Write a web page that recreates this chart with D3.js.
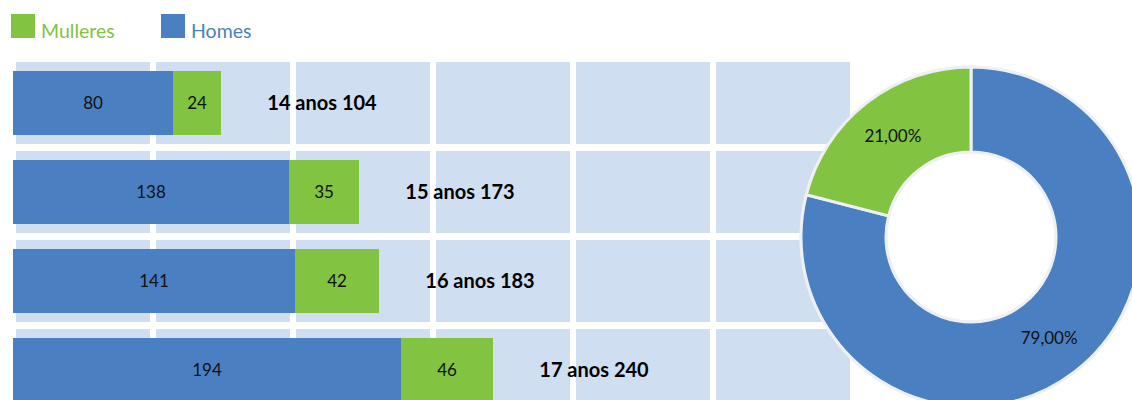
<!DOCTYPE html>
<html>
<head>
<meta charset="utf-8">
<script src="https://cdn.jsdelivr.net/npm/d3@7"></script>
<style>
  html, body { margin: 0; padding: 0; background: #fff; }
  svg { display: block; font-family: Lato, "Open Sans", sans-serif; }
</style>
</head>
<body>
<svg id="chart" width="1132" height="400"></svg>
<script>
// Ages and counts by sex
const ages = ["14 anos", "15 anos", "16 anos", "17 anos"];
const homes = [80, 138, 141, 194];
const mulleres = [24, 35, 42, 46];
const gridTicks = [0, 70, 140, 210, 280, 350, 420];

// Share of the total by sex
const shareLabels = ["Homes", "Mulleres"];
const shareValues = [79, 21];

const BLUE = "#4a80c1", GREEN = "#82c341", CELL = "#cfdef0", RIM = "#eef0f4";

const svg = d3.select("#chart");

const x = d3.scaleLinear().domain([0, 420]).range([13, 853]);
const y = d3.scaleBand().domain(ages).range([58.5, 414.5])
  .paddingInner(25 / 89).paddingOuter(12.5 / 89);

// Background grid cells
const cellH = 82;
const cellGroup = svg.append("g");
ages.forEach(a => {
  const cy = y(a) + y.bandwidth() / 2;
  for (let i = 0; i < gridTicks.length - 1; i++) {
    cellGroup.append("rect")
      .attr("x", x(gridTicks[i]) + 3)
      .attr("y", cy - cellH / 2)
      .attr("width", x(gridTicks[i + 1]) - x(gridTicks[i]) - 6)
      .attr("height", cellH)
      .attr("fill", CELL);
  }
});

// Stacked bars
const rows = ages.map((a, i) => ({ age: a, h: homes[i], m: mulleres[i] }));
const bars = svg.append("g").selectAll("g").data(rows).join("g");

bars.append("rect")
  .attr("x", x(0)).attr("y", d => y(d.age))
  .attr("width", d => x(d.h) - x(0)).attr("height", y.bandwidth())
  .attr("fill", BLUE);
bars.append("rect")
  .attr("x", d => x(d.h)).attr("y", d => y(d.age))
  .attr("width", d => x(d.h + d.m) - x(d.h)).attr("height", y.bandwidth())
  .attr("fill", GREEN);

bars.append("text")
  .attr("x", d => (x(0) + x(d.h)) / 2)
  .attr("y", d => y(d.age) + y.bandwidth() / 2)
  .attr("dy", "0.36em").attr("text-anchor", "middle")
  .attr("font-size", 17).attr("fill", "#111")
  .text(d => d.h);
bars.append("text")
  .attr("x", d => (x(d.h) + x(d.h + d.m)) / 2)
  .attr("y", d => y(d.age) + y.bandwidth() / 2)
  .attr("dy", "0.36em").attr("text-anchor", "middle")
  .attr("font-size", 17).attr("fill", "#111")
  .text(d => d.m);
bars.append("text")
  .attr("x", d => x(d.h + d.m) + 101)
  .attr("y", d => y(d.age) + y.bandwidth() / 2)
  .attr("dy", "0.36em").attr("text-anchor", "middle")
  .attr("font-size", 20).attr("font-weight", "bold").attr("fill", "#000")
  .text(d => `${d.age} ${d.h + d.m}`);

// Legend
const legend = [
  { label: "Mulleres", color: GREEN, x: 11 },
  { label: "Homes", color: BLUE, x: 161 }
];
const lg = svg.append("g").selectAll("g").data(legend).join("g")
  .attr("transform", d => `translate(${d.x},14)`);
lg.append("rect").attr("width", 24).attr("height", 24).attr("fill", d => d.color);
lg.append("text").attr("x", 30).attr("y", 24)
  .attr("font-size", 19.5).attr("fill", d => d.color)
  .text(d => d.label);

// Donut of shares
const pie = d3.pie().sort(null).value(d => d.v);
const shares = pie(shareLabels.map((l, i) => ({ l, v: shareValues[i] })));
const rIn = 85, rOut = 170;
const arc = d3.arc().innerRadius(rIn).outerRadius(rOut);
const donut = svg.append("g").attr("transform", "translate(971,237)");
// light rim around the ring
donut.append("path")
  .attr("d", d3.arc().innerRadius(rIn - 1.5).outerRadius(rOut + 1.5)
    .startAngle(0).endAngle(2 * Math.PI)())
  .attr("fill", RIM);
donut.selectAll("path.slice").data(shares).join("path")
  .attr("class", "slice")
  .attr("d", arc)
  .attr("fill", d => d.data.l === "Homes" ? BLUE : GREEN)
  .attr("stroke", RIM).attr("stroke-width", 3);
donut.selectAll("text").data(shares).join("text")
  .attr("transform", d => `translate(${arc.centroid(d)})`)
  .attr("dy", "0.36em").attr("text-anchor", "middle")
  .attr("font-size", 17).attr("fill", "#111")
  .text(d => d3.format(".2f")(d.data.v).replace(".", ",") + "%");
</script>
</body>
</html>
